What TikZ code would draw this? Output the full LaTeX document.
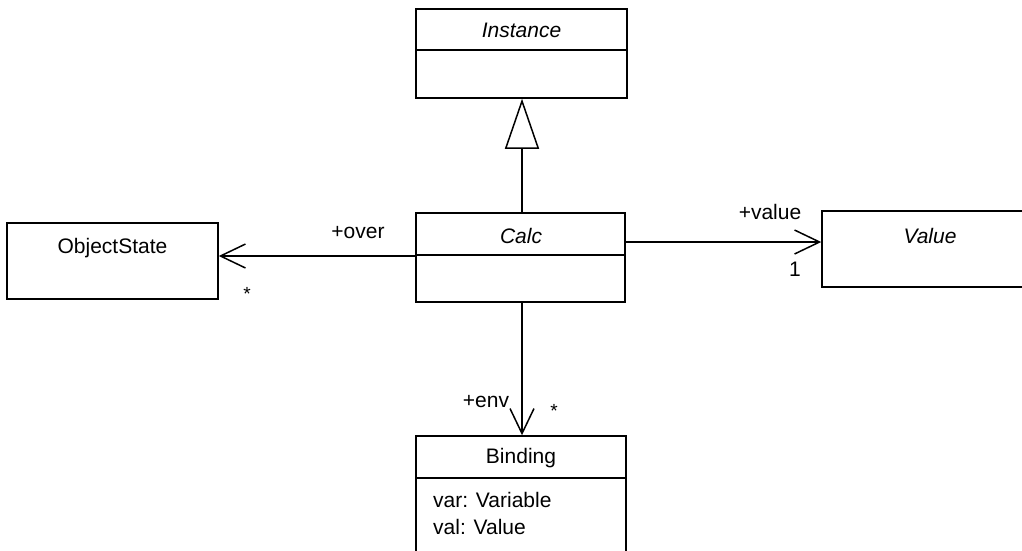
\documentclass[tikz,border=0pt]{standalone}
\usepackage{fontspec}
\setmainfont{Liberation Sans}
\usetikzlibrary{arrows.meta}
\begin{document}
\begin{tikzpicture}[x=1pt,y=-1pt,
  box/.style={draw,line width=1.5pt,inner sep=0pt,fill=white},
  lbl/.style={inner sep=0pt,font=\fontsize{21}{25}\selectfont},
  mult/.style={inner sep=0pt,font=\fontsize{19}{22}\selectfont},
  conn/.style={line width=1.5pt},
  assoc/.style={conn,-{Straight Barb[length=25pt,width=24pt,line width=1.5pt]}},
  gen/.style={conn,-{Triangle[open,length=50pt,width=34pt,line width=1.5pt,fill=white]}}
]
\useasboundingbox (0,0) rectangle (1022,550);
% Instance
\node[box,minimum width=211pt,minimum height=89pt] (inst) at (521.5,53.5) {};
\draw[conn] (inst.west |- 0,50) -- (inst.east |- 0,50);
\node[lbl,font=\fontsize{21}{25}\selectfont\itshape] (instT) at (521.5,30) {Instance};
% Calc
\node[box,minimum width=209pt,minimum height=89pt] (calc) at (520.5,257.5) {};
\draw[conn] (calc.west |- 0,255) -- (calc.east |- 0,255);
\node[lbl,font=\fontsize{21}{25}\selectfont\itshape] (calcT) at (521,236) {Calc};
% ObjectState
\node[box,minimum width=211pt,minimum height=76pt] (obj) at (112.5,261) {};
\node[lbl] (objT) at (112.5,248) {ObjectState};
% Value
\node[box,minimum width=211pt,minimum height=76pt] (val) at (927.5,249) {};
\node[lbl,font=\fontsize{21}{25}\selectfont\itshape] (valT) at (930,236) {Value};
% Binding
\node[box,minimum width=210pt,minimum height=130pt] (bind) at (521,501) {};
\draw[conn] (bind.west |- 0,478) -- (bind.east |- 0,478);
\node[lbl] (bindT) at (521,458) {Binding};
\node[lbl,anchor=west] (a1) at (433,500) {var: Variable};
\node[lbl,anchor=west] (a2) at (433,527) {val: Value};
% connectors
\draw[gen] (calc.north -| 522,0) -- (inst.south -| 522,0);
\draw[assoc] (calc.west |- 0,256) -- (obj.east |- 0,256);
\draw[assoc] (calc.east |- 0,242) -- (val.west |- 0,242);
\draw[assoc] (calc.south -| 522,0) -- (bind.north -| 522,0);
% labels
\node[lbl] (over) at (358,233) {+over};
\node[mult] (m1) at (247,294) {*};
\node[lbl] (value) at (770,212) {+value};
\node[lbl] (m2) at (795,269) {1};
\node[lbl] (env) at (486,402) {+env};
\node[mult] (m3) at (554,411) {*};
\end{tikzpicture}
\end{document}
